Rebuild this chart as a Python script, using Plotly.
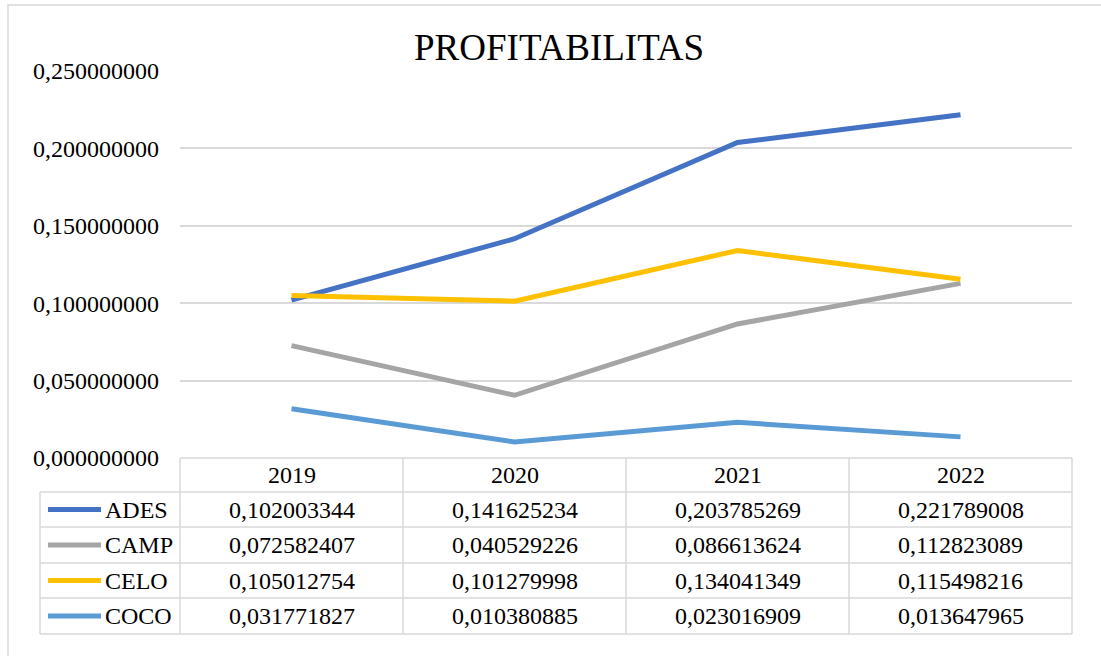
import plotly.graph_objects as go

# Datos
years = ["2019", "2020", "2021", "2022"]
series_names = ["ADES", "CAMP", "CELO", "COCO"]
ades = [0.102003344, 0.141625234, 0.203785269, 0.221789008]
camp = [0.072582407, 0.040529226, 0.086613624, 0.112823089]
celo = [0.105012754, 0.101279998, 0.134041349, 0.115498216]
coco = [0.031771827, 0.010380885, 0.023016909, 0.013647965]
y_ticks = [0.0, 0.05, 0.10, 0.15, 0.20, 0.25]
title_text = "PROFITABILITAS"

colors = ["#4472C4", "#A5A5A5", "#FFC000", "#5B9BD5"]
series = [ades, camp, celo, coco]

W, H = 1101, 656
FONT = "Liberation Serif"
GRID = "#D9D9D9"
TXT = 24


def px(x):
    return x / W


def py(y):
    return 1 - y / H


def fmt(v):
    return f"{v:.9f}".replace(".", ",")


# Geometría (pixeles)
PLOT_L, PLOT_R = 180, 1072
PLOT_T, PLOT_B = 71, 458
TABLE_L = 40
ROW_Y = [458, 492, 527, 563, 598, 634]  # bordes horizontales de la tabla
COL_W = (PLOT_R - PLOT_L) / len(years)

fig = go.Figure()
for name, vals, col in zip(series_names, series, colors):
    fig.add_trace(go.Scatter(
        x=years, y=vals, mode="lines", name=name,
        line=dict(color=col, width=5),
        hoverinfo="skip",
    ))

shapes = []
annotations = []

# Marco exterior del gráfico
shapes.append(dict(type="rect", xref="paper", yref="paper",
                   x0=px(8), x1=px(1120), y0=py(680), y1=py(5),
                   line=dict(color=GRID, width=1.5), layer="below"))

# Bordes de la tabla
shapes.append(dict(type="line", xref="paper", yref="paper",
                   x0=px(PLOT_L), x1=px(PLOT_R), y0=py(ROW_Y[0]), y1=py(ROW_Y[0]),
                   line=dict(color=GRID, width=1.5)))
for yy in ROW_Y[1:]:
    shapes.append(dict(type="line", xref="paper", yref="paper",
                       x0=px(TABLE_L), x1=px(PLOT_R), y0=py(yy), y1=py(yy),
                       line=dict(color=GRID, width=1.5)))
for i in range(len(years) + 1):
    xx = PLOT_L + i * COL_W
    shapes.append(dict(type="line", xref="paper", yref="paper",
                       x0=px(xx), x1=px(xx), y0=py(ROW_Y[0]), y1=py(ROW_Y[-1]),
                       line=dict(color=GRID, width=1.5)))
shapes.append(dict(type="line", xref="paper", yref="paper",
                   x0=px(TABLE_L), x1=px(TABLE_L), y0=py(ROW_Y[1]), y1=py(ROW_Y[-1]),
                   line=dict(color=GRID, width=1.5)))

# Cabecera de años (x = índice de categoría)
for i, yr in enumerate(years):
    annotations.append(dict(x=i, xref="x", y=py((ROW_Y[0] + ROW_Y[1]) / 2), yref="paper",
                            text=yr, showarrow=False, xanchor="center", yanchor="middle",
                            font=dict(family=FONT, size=TXT, color="#000000")))

# Filas: clave de leyenda + valores
for r, (name, vals, col) in enumerate(zip(series_names, series, colors)):
    yc = (ROW_Y[r + 1] + ROW_Y[r + 2]) / 2
    shapes.append(dict(type="line", xref="paper", yref="paper",
                       x0=px(48), x1=px(101), y0=py(yc), y1=py(yc),
                       line=dict(color=col, width=5)))
    annotations.append(dict(x=px(103), xref="paper", y=py(yc), yref="paper",
                            text=name, showarrow=False, xanchor="left", yanchor="middle",
                            font=dict(family=FONT, size=TXT, color="#000000")))
    for i, v in enumerate(vals):
        annotations.append(dict(x=i, xref="x", y=py(yc), yref="paper",
                                text=fmt(v), showarrow=False, xanchor="center", yanchor="middle",
                                font=dict(family=FONT, size=TXT, color="#000000")))

# Título
annotations.append(dict(x=px(559), xref="paper", y=py(47), yref="paper",
                        text=title_text, showarrow=False, xanchor="center", yanchor="middle",
                        font=dict(family=FONT, size=37, color="#000000")))

fig.update_xaxes(
    type="category",
    categoryorder="array", categoryarray=years,
    range=[-0.5, len(years) - 0.5],
    domain=[px(PLOT_L), px(PLOT_R)],
    showticklabels=False, showgrid=False, zeroline=False,
    showline=False, automargin=False,
)
fig.update_yaxes(
    range=[0, 0.25],
    domain=[py(PLOT_B), py(PLOT_T)],
    tickvals=y_ticks,
    ticktext=[fmt(v) for v in y_ticks],
    tickfont=dict(family=FONT, size=TXT, color="#000000"),
    ticklabelstandoff=20,
    showgrid=True, gridcolor=GRID, gridwidth=1.5,
    zeroline=False, showline=False, automargin=False,
)
fig.update_layout(
    width=W, height=H,
    margin=dict(l=0, r=0, t=0, b=0, autoexpand=False),
    paper_bgcolor="white",
    plot_bgcolor="white",
    showlegend=False,
    separators=",.",
    font=dict(family=FONT),
    shapes=shapes,
    annotations=annotations,
)

fig.write_html("out.html", config={"displayModeBar": False},
               post_script="document.body.style.margin='0';")
